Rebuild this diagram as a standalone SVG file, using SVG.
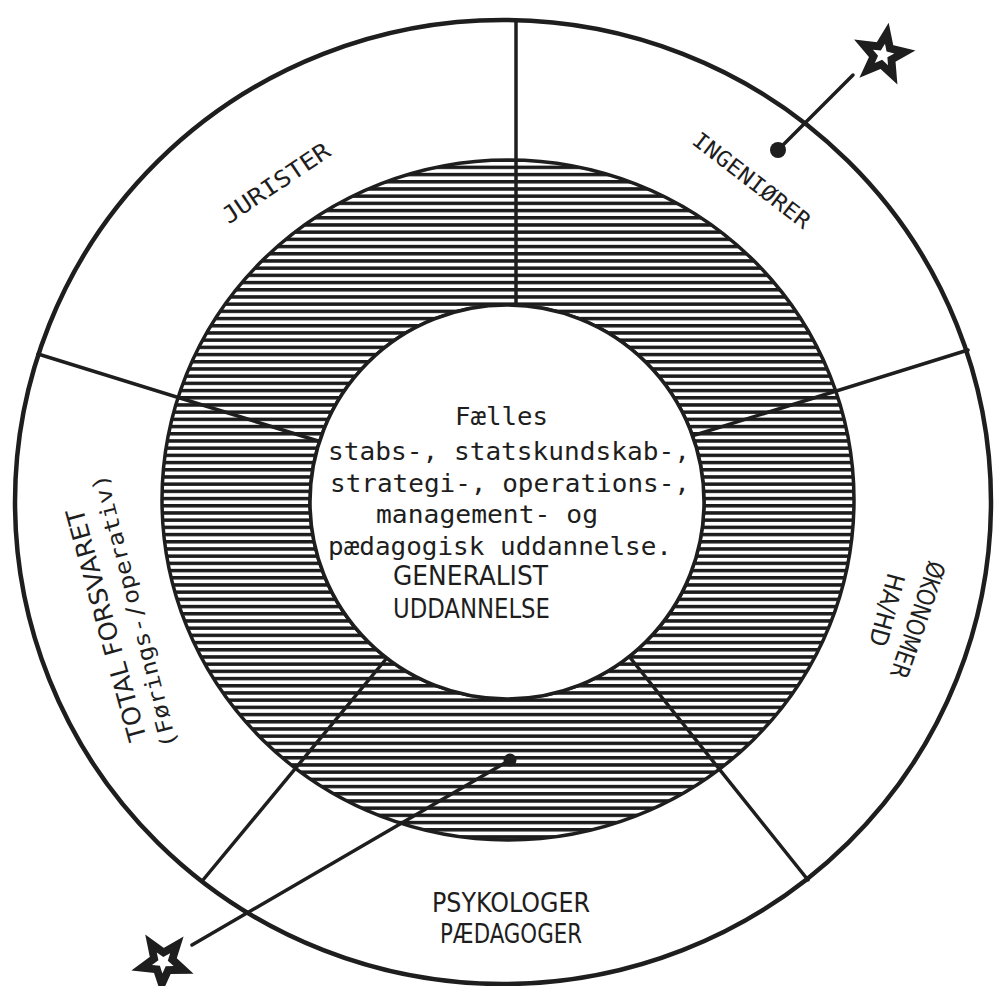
<svg xmlns="http://www.w3.org/2000/svg" width="994" height="986" viewBox="0 0 994 986">
  <defs>
    <pattern id="hatch" patternUnits="userSpaceOnUse" width="20" height="7.2">
      <rect x="0" y="0" width="20" height="3.5" fill="#1c1c1c"/>
    </pattern>
    <style>
      .ln { stroke:#1e1e1e; stroke-width:3.5; fill:none; stroke-linecap:round; }
      .mono { font-family:"DejaVu Sans Mono","Liberation Mono",monospace; fill:#1e1e1e; }
      .narrow { font-family:"Liberation Sans Narrow","DejaVu Sans Condensed","Liberation Sans",sans-serif; fill:#1e1e1e; }
      .star { fill:#1e1e1e; stroke:#1e1e1e; stroke-width:2; stroke-linejoin:miter; }
      .hole { fill:#fff; }
    </style>
  </defs>
  <rect x="0" y="0" width="994" height="986" fill="#fff"/>

  <g id="outer-circle">
    <ellipse cx="503" cy="502" rx="488" ry="482" fill="#fff" stroke="#1e1e1e" stroke-width="4.5"/>
  </g>

  <g id="hatched-ring">
    <path d="M 162 500 A 346 340 0 1 0 854 500 A 346 340 0 1 0 162 500 Z M 310 502 A 197 197 0 1 0 704 502 A 197 197 0 1 0 310 502 Z" fill="url(#hatch)" fill-rule="evenodd" stroke="#1e1e1e" stroke-width="3.5"/>
  </g>

  <g id="dividers">
    <line class="ln" x1="516" y1="20" x2="516" y2="400"/>
    <line class="ln" x1="38" y1="354" x2="360" y2="454"/>
    <line class="ln" x1="968" y1="350" x2="650" y2="449"/>
    <line class="ln" x1="808" y1="880" x2="600" y2="620"/>
    <line class="ln" x1="203" y1="880" x2="420" y2="618"/>
  </g>

  <g id="center-node">
    <circle cx="507" cy="502" r="197" fill="#fff" stroke="#1e1e1e" stroke-width="3.5"/>
    <text class="mono" font-size="24" x="455" y="425" textLength="93" lengthAdjust="spacingAndGlyphs">Fælles</text>
    <text class="mono" font-size="24" x="328" y="460" textLength="362" lengthAdjust="spacingAndGlyphs">stabs-, statskundskab-,</text>
    <text class="mono" font-size="24" x="330" y="492" textLength="360" lengthAdjust="spacingAndGlyphs">strategi-, operations-,</text>
    <text class="mono" font-size="24" x="376" y="523" textLength="222" lengthAdjust="spacingAndGlyphs">management- og</text>
    <text class="mono" font-size="24" x="328" y="555" textLength="344" lengthAdjust="spacingAndGlyphs">pædagogisk uddannelse.</text>
    <text class="narrow" font-size="27" x="393" y="585" textLength="155" lengthAdjust="spacingAndGlyphs">GENERALIST</text>
    <text class="narrow" font-size="27" x="393" y="618" textLength="157" lengthAdjust="spacingAndGlyphs">UDDANNELSE</text>
  </g>

  <g id="node-jurister">
    <text class="mono" font-size="23" transform="translate(276 183) rotate(-34)" x="0" y="8" text-anchor="middle" textLength="125" lengthAdjust="spacingAndGlyphs">JURISTER</text>
  </g>

  <g id="node-ingeniorer">
    <text class="mono" font-size="22" transform="translate(752 180) rotate(37.6)" x="0" y="8" text-anchor="middle" textLength="142" lengthAdjust="spacingAndGlyphs">INGENIØRER</text>
  </g>

  <g id="node-okonomer">
    <text class="narrow" font-size="25" transform="translate(918 620) rotate(109)" x="0" y="9" text-anchor="middle" textLength="122" lengthAdjust="spacingAndGlyphs">ØKONOMER</text>
    <text class="narrow" font-size="25" transform="translate(887 610) rotate(105)" x="0" y="9" text-anchor="middle" textLength="74" lengthAdjust="spacingAndGlyphs">HA/HD</text>
  </g>

  <g id="node-psykologer">
    <text class="narrow" font-size="26" x="511" y="912" text-anchor="middle" textLength="158" lengthAdjust="spacingAndGlyphs">PSYKOLOGER</text>
    <text class="narrow" font-size="26" x="511" y="943" text-anchor="middle" textLength="142" lengthAdjust="spacingAndGlyphs">PÆDAGOGER</text>
  </g>

  <g id="node-total-forsvaret">
    <text class="narrow" font-size="25" transform="translate(106 625) rotate(-105.5)" x="0" y="9" text-anchor="middle" textLength="240" lengthAdjust="spacingAndGlyphs">TOTAL FORSVARET</text>
    <text class="mono" font-size="22" transform="translate(135 611) rotate(-104.6)" x="0" y="7" text-anchor="middle" textLength="282" lengthAdjust="spacingAndGlyphs">(Førings-/operativ)</text>
  </g>

  <g id="connectors">
    <line class="ln" x1="778" y1="150" x2="853" y2="75"/>
    <circle cx="778" cy="150" r="8" fill="#1e1e1e"/>
    <line class="ln" x1="510" y1="760" x2="192" y2="945"/>
    <circle cx="510" cy="760" r="6.5" fill="#1e1e1e"/>
  </g>

  <g id="star-top">
    <polygon class="star" points="888.2,25.5 892.4,46.0 912.7,50.8 894.5,61.1 896.2,82.0 880.7,67.8 861.4,75.8 870.1,56.8 856.5,40.9 877.3,43.3"/>
    <polygon class="hole" transform="translate(883 55) scale(0.38) translate(-883 -55)" points="888.2,25.5 892.4,46.0 912.7,50.8 894.5,61.1 896.2,82.0 880.7,67.8 861.4,75.8 870.1,56.8 856.5,40.9 877.3,43.3"/>
  </g>

  <g id="star-bottom">
    <polygon class="star" points="161.4,992.0 154.8,972.1 134.0,969.8 150.9,957.3 146.7,936.8 163.7,949.0 181.9,938.7 175.6,958.6 191.0,972.8 170.1,972.9"/>
    <polygon class="hole" transform="translate(163 962) scale(0.38) translate(-163 -962)" points="161.4,992.0 154.8,972.1 134.0,969.8 150.9,957.3 146.7,936.8 163.7,949.0 181.9,938.7 175.6,958.6 191.0,972.8 170.1,972.9"/>
  </g>
</svg>
